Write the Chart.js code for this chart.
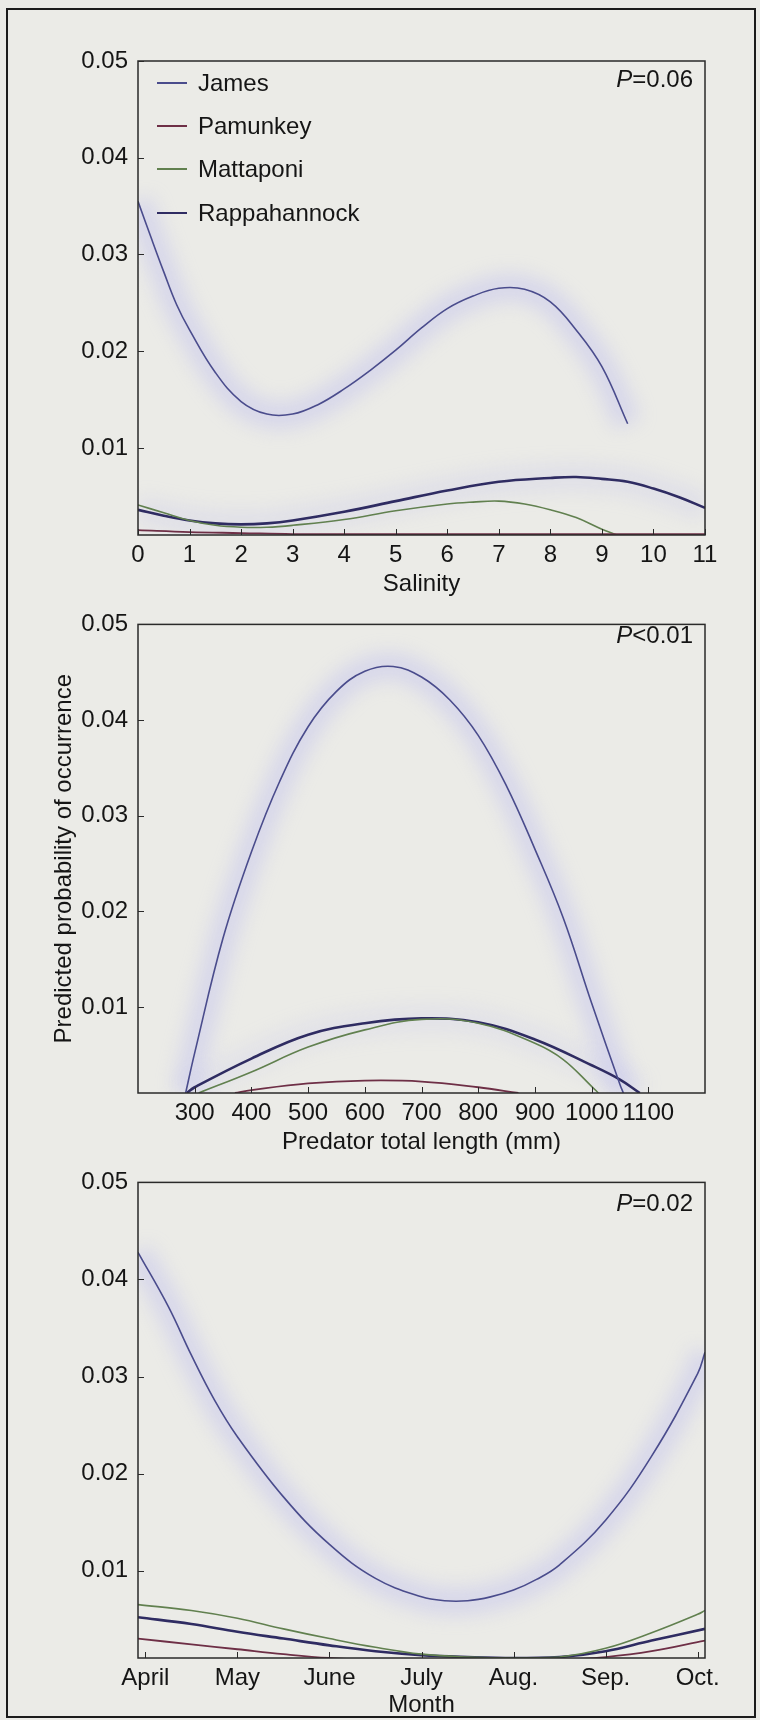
<!DOCTYPE html>
<html>
<head>
<meta charset="utf-8">
<script src="https://cdn.jsdelivr.net/npm/chart.js@4.4.4/dist/chart.umd.min.js"></script>
<style>
  html, body { margin: 0; padding: 0; background: #ebebe7; overflow: hidden; }
  body { position: relative; width: 760px; height: 1720px; font-family: 'Liberation Sans', Arial, sans-serif; color: #151515; }
  canvas { position: absolute; left: 0; }
  #frame { position: absolute; left: 6px; top: 8px; width: 750px; height: 1710px; box-sizing: border-box; border: 2px solid #1c1c1c; pointer-events: none; }
  .pval { position: absolute; right: 67px; font-size: 24px; line-height: 28px; }
  #legend { position: absolute; left: 157px; top: 61px; font-size: 24px; }
  #legend div { height: 43.4px; display: flex; align-items: center; }
  #legend span.sw { display: inline-block; width: 30px; height: 2px; margin-right: 11px; }
</style>
</head>
<body>
<canvas id="salinity" width="760" height="600" style="top:0"></canvas>
<canvas id="length" width="760" height="558" style="top:600px"></canvas>
<canvas id="month" width="760" height="562" style="top:1158px"></canvas>
<div id="legend"></div>
<div class="pval" style="top:65px"><i>P</i>=0.06</div>
<div class="pval" style="top:621px"><i>P</i>&lt;0.01</div>
<div class="pval" style="top:1189px"><i>P</i>=0.02</div>
<div id="frame"></div>
<script>
// rivers and their line colours
const rivers = ['James', 'Pamunkey', 'Mattaponi', 'Rappahannock'];
const riverColors = ['#4a4c8c', '#6e2f46', '#61804f', '#2f2c62'];
const riverWidths = [1.6, 1.8, 1.6, 2.6];

const yTicks = [0.01, 0.02, 0.03, 0.04, 0.05];

// Panel 1: salinity
const salTicks = [0, 1, 2, 3, 4, 5, 6, 7, 8, 9, 10, 11];
const salLabels = ['0', '1', '2', '3', '4', '5', '6', '7', '8', '9', '10', '11'];
const salJamesX = [0, 0.25, 0.5, 0.75, 1, 1.5, 2, 2.5, 3, 3.5, 4, 4.5, 5, 5.5, 6, 6.5, 7, 7.5, 8, 8.5, 9, 9.5];
const salJamesY = [0.0355, 0.0318, 0.0282, 0.0248, 0.0222, 0.0178, 0.0148, 0.0135, 0.0135, 0.0145, 0.0161, 0.0180, 0.0201, 0.0224, 0.0244, 0.0257, 0.0265, 0.0264, 0.0251, 0.0222, 0.0184, 0.0125];
const salPamunkeyX = [0, 1, 2, 3, 4, 5, 6, 7, 8, 9, 10, 11];
const salPamunkeyY = [0.0015, 0.0013, 0.0012, 0.0011, 0.0011, 0.0011, 0.0011, 0.0011, 0.0011, 0.0011, 0.0011, 0.0011];
const salMattaponiX = [0, 0.5, 1, 1.5, 2, 2.5, 3, 4, 5, 6, 6.5, 7, 7.5, 8, 8.5, 9, 9.3];
const salMattaponiY = [0.0041, 0.0033, 0.0025, 0.0020, 0.0018, 0.0018, 0.0020, 0.0026, 0.0035, 0.0042, 0.0044, 0.0045, 0.0042, 0.0036, 0.0028, 0.0016, 0.0010];
const salRappX = [0, 0.5, 1, 1.5, 2, 2.5, 3, 4, 5, 6, 7, 8, 8.5, 9, 9.5, 10, 10.5, 11];
const salRappY = [0.0036, 0.0030, 0.0025, 0.0022, 0.0021, 0.0022, 0.0025, 0.0034, 0.0045, 0.0056, 0.0065, 0.0069, 0.0070, 0.0068, 0.0065, 0.0058, 0.0049, 0.0038];

// Panel 2: predator total length (mm)
const lenTicks = [300, 400, 500, 600, 700, 800, 900, 1000, 1100];
const lenLabels = ['300', '400', '500', '600', '700', '800', '900', '1000', '1100'];
const lenJamesX = [284, 300, 350, 400, 450, 500, 550, 600, 650, 700, 750, 800, 850, 900, 950, 1000, 1050, 1056];
const lenJamesY = [0.0010, 0.0052, 0.0172, 0.0262, 0.0336, 0.0393, 0.0430, 0.0451, 0.0456, 0.0445, 0.0421, 0.0384, 0.0331, 0.0265, 0.0193, 0.0104, 0.0019, 0.0010];
const lenPamunkeyX = [371, 400, 500, 600, 700, 800, 871];
const lenPamunkeyY = [0.0010, 0.0013, 0.0020, 0.0023, 0.0022, 0.0016, 0.0010];
const lenMattaponiX = [307, 400, 500, 600, 700, 800, 900, 950, 1000, 1012];
const lenMattaponiY = [0.0010, 0.0032, 0.0058, 0.0076, 0.0087, 0.0083, 0.0062, 0.0045, 0.0017, 0.0010];
const lenRappX = [286, 300, 400, 500, 600, 700, 800, 900, 1000, 1050, 1085];
const lenRappY = [0.0010, 0.0016, 0.0046, 0.0071, 0.0083, 0.0088, 0.0084, 0.0066, 0.0039, 0.0024, 0.0010];

// Panel 3: month (April = 4 ... Oct. = 10)
const monTicks = [4, 5, 6, 7, 8, 9, 10];
const monLabels = ['April', 'May', 'June', 'July', 'Aug.', 'Sep.', 'Oct.'];
const monJamesX = [3.92, 4.25, 4.5, 4.75, 5, 5.5, 6, 6.5, 7, 7.25, 7.5, 7.75, 8, 8.25, 8.5, 9, 9.5, 10, 10.08];
const monJamesY = [0.0428, 0.0372, 0.0322, 0.0276, 0.0238, 0.0176, 0.0127, 0.0092, 0.0073, 0.0069, 0.0069, 0.0073, 0.0080, 0.0091, 0.0106, 0.0152, 0.0218, 0.0303, 0.0325];
const monPamunkeyX = [3.92, 4.5, 5, 5.5, 6, 6.5, 7, 7.5, 8, 8.5, 9, 9.5, 10.08];
const monPamunkeyY = [0.0030, 0.0024, 0.0019, 0.0014, 0.0010, 0.0008, 0.0007, 0.0007, 0.0007, 0.0008, 0.0011, 0.0017, 0.0028];
const monMattaponiX = [3.92, 4.5, 5, 5.5, 6, 6.5, 7, 7.5, 8, 8.5, 9, 9.5, 10, 10.08];
const monMattaponiY = [0.0065, 0.0059, 0.0051, 0.0040, 0.0030, 0.0021, 0.0014, 0.0011, 0.0010, 0.0011, 0.0020, 0.0036, 0.0055, 0.0059];
const monRappX = [3.92, 4.5, 5, 5.5, 6, 6.5, 7, 7.5, 8, 8.5, 9, 9.5, 10.08];
const monRappY = [0.0052, 0.0045, 0.0037, 0.0030, 0.0023, 0.0017, 0.0013, 0.0011, 0.0010, 0.0011, 0.0017, 0.0028, 0.0040];

Chart.defaults.font.family = "'Liberation Sans', Arial, sans-serif";
Chart.defaults.font.size = 24;
Chart.defaults.color = '#151515';

// legend (html, sits inside the first panel)
const legendEl = document.querySelector('#legend');
rivers.forEach((name, i) => {
  const row = document.createElement('div');
  row.innerHTML = `<span class="sw" style="background:${riverColors[i]}"></span>${name}`;
  legendEl.appendChild(row);
});

function pts(xs, ys) {
  return xs.map((x, i) => ({ x, y: ys[i] }));
}

function line(data, i) {
  return {
    data, borderColor: riverColors[i], borderWidth: riverWidths[i],
    pointRadius: 0, tension: 0.4, order: 0,
  };
}

function glow(data, alpha) {
  return {
    data, borderColor: `rgba(180,180,240,${alpha})`, borderWidth: 28, glow: true,
    pointRadius: 0, tension: 0.4, order: 1,
  };
}

// soft halo under some curves
const glowPlugin = {
  id: 'glow',
  beforeDatasetDraw(chart, args) {
    if (chart.data.datasets[args.index].glow) {
      chart.ctx.save();
      chart.ctx.filter = 'blur(9px)';
    }
  },
  afterDatasetDraw(chart, args) {
    if (chart.data.datasets[args.index].glow) chart.ctx.restore();
  }
};

// box round the plot + inward tick marks
const framePlugin = {
  id: 'frame',
  afterDatasetsDraw(chart) {
    const { ctx, chartArea: a, scales } = chart;
    ctx.save();
    ctx.strokeStyle = '#2a2a2a';
    ctx.lineWidth = 1.5;
    ctx.strokeRect(a.left, a.top, a.right - a.left, a.bottom - a.top);
    ctx.lineWidth = 1;
    ctx.beginPath();
    for (const t of scales.x.ticks) {
      const px = Math.round(scales.x.getPixelForValue(t.value)) + 0.5;
      ctx.moveTo(px, a.bottom);
      ctx.lineTo(px, a.bottom - 6);
    }
    for (const t of scales.y.ticks) {
      const py = Math.round(scales.y.getPixelForValue(t.value)) + 0.5;
      ctx.moveTo(a.left, py);
      ctx.lineTo(a.left + 6, py);
    }
    ctx.stroke();
    ctx.restore();
  }
};

function makePanel(id, cfg) {
  return new Chart(document.getElementById(id), {
    type: 'line',
    data: { datasets: cfg.datasets },
    plugins: [glowPlugin, framePlugin],
    options: {
      responsive: false,
      animation: false,
      events: [],
      layout: { padding: { left: 46, right: 55, top: cfg.padTop, bottom: 0 } },
      plugins: { legend: { display: false }, tooltip: { enabled: false } },
      scales: {
        x: {
          type: 'linear', min: cfg.xMin, max: cfg.xMax,
          grid: { display: false, drawTicks: false }, border: { display: false },
          afterBuildTicks: s => { s.ticks = cfg.xTicks.map(v => ({ value: v })); },
          afterFit: s => { s.height = cfg.xHeight; },
          ticks: { padding: 6, maxRotation: 0, autoSkip: false, callback: (v, i) => cfg.xLabels[i] },
          title: { display: true, text: cfg.xTitle, padding: { top: 0, bottom: cfg.titlePad } }
        },
        y: {
          type: 'linear', min: 0.001, max: 0.05,
          grid: { display: false, drawTicks: false }, border: { display: false },
          afterBuildTicks: s => { s.ticks = yTicks.map(v => ({ value: v })); },
          afterFit: s => { s.width = 92; },
          ticks: { padding: 10, callback: v => v.toFixed(2) },
          title: { display: !!cfg.yTitle, text: cfg.yTitle || '', padding: { top: 4, bottom: 0 } }
        }
      }
    }
  });
}

makePanel('salinity', {
  xMin: 0, xMax: 11, xTicks: salTicks, xLabels: salLabels, xTitle: 'Salinity',
  padTop: 61, xHeight: 65, titlePad: 1,
  datasets: [
    line(pts(salJamesX, salJamesY), 0),
    line(pts(salPamunkeyX, salPamunkeyY), 1),
    line(pts(salMattaponiX, salMattaponiY), 2),
    line(pts(salRappX, salRappY), 3),
    glow(pts(salJamesX, salJamesY), 0.35),
    glow(pts(salRappX, salRappY), 0.18),
  ]
});

makePanel('length', {
  xMin: 200, xMax: 1200, xTicks: lenTicks, xLabels: lenLabels, xTitle: 'Predator total length (mm)',
  yTitle: 'Predicted probability of occurrence',
  padTop: 15, xHeight: 65, titlePad: 1,
  datasets: [
    line(pts(lenJamesX, lenJamesY), 0),
    line(pts(lenPamunkeyX, lenPamunkeyY), 1),
    line(pts(lenMattaponiX, lenMattaponiY), 2),
    line(pts(lenRappX, lenRappY), 3),
    glow(pts(lenJamesX, lenJamesY), 0.35),
    glow(pts(lenRappX, lenRappY), 0.15),
  ]
});

makePanel('month', {
  xMin: 3.92, xMax: 10.08, xTicks: monTicks, xLabels: monLabels, xTitle: 'Month',
  padTop: 23, xHeight: 62, titlePad: 0,
  datasets: [
    line(pts(monJamesX, monJamesY), 0),
    line(pts(monPamunkeyX, monPamunkeyY), 1),
    line(pts(monMattaponiX, monMattaponiY), 2),
    line(pts(monRappX, monRappY), 3),
    glow(pts(monJamesX, monJamesY), 0.35),
  ]
});
</script>
</body>
</html>
